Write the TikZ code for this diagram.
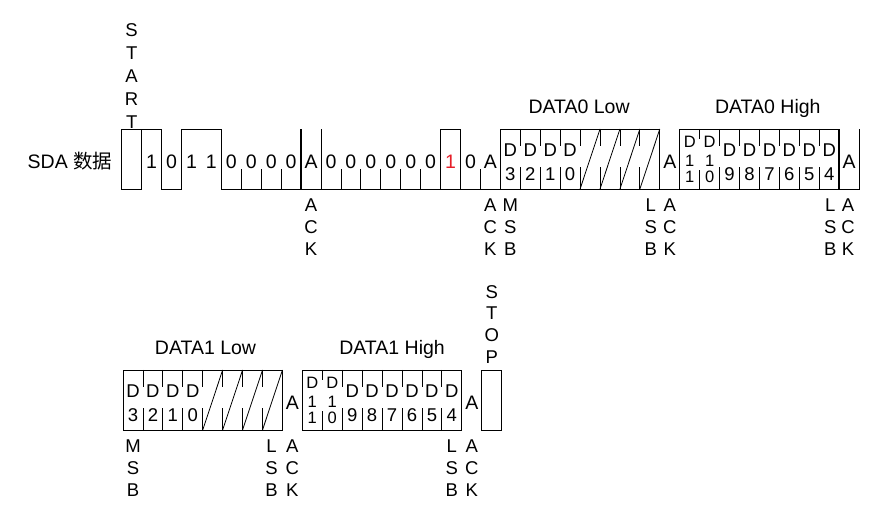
\documentclass[tikz,border=0pt]{standalone}
\usepackage{fontspec}
\setmainfont{Liberation Sans}
\newfontfamily\cjkfont{Noto Sans CJK SC}
\usepackage{tikz}
\usetikzlibrary{positioning}
\definecolor{bitred}{RGB}{230, 30, 40}
\tikzstyle{cellbox} = [rectangle, draw=black, line width=0.8pt, inner sep=0pt, outer sep=0pt, minimum height=60pt]
\tikzstyle{wave} = [draw=black, line width=0.8pt]
\tikzstyle{heavy} = [draw=black, line width=2pt]
\tikzstyle{bit} = [inner sep=0pt, anchor=base, text=black, font=\fontsize{19.5}{19.5}\selectfont]
\tikzstyle{dbit} = [inner sep=0pt, anchor=base, text=black, font=\fontsize{18.5}{18.5}\selectfont]
\tikzstyle{dsmall} = [inner sep=0pt, anchor=base, text=black, font=\fontsize{16.5}{16.5}\selectfont]
\tikzstyle{vlabel} = [inner sep=0pt, align=center, text=black, font=\fontsize{18.5}{21.7}\selectfont]

\begin{document}
\begin{tikzpicture}[x=19.93pt, y=1pt]
\useasboundingbox (-121.7pt,0pt) rectangle (772.3pt,518pt);

% row 1: address + DATA0 =============================

% boxes
\node[cellbox, minimum width=19.93pt] (start) at (0.5,359) {};
\node[cellbox, minimum width=19.93pt] (rwbox) at (16.5,359) {};
\node[cellbox, minimum width=159.44pt] (d0low) at (23,359) {};
\node[cellbox, minimum width=159.44pt] (d0high) at (32,359) {};

% waveform
\draw[wave] (start.north east) -- (2,389) -- (2,329) -- (3,329) -- (3,389) -- (5,389) -- (5,329) -- (37,329) -- (37,389);
\draw[heavy] (9,329) -- (9,389);
\draw[wave] (10,329) -- (10,389);
\draw[heavy] (d0high.south east) -- (d0high.north east);
\foreach \k in {6,7,8,11,12,13,14,15,18}
  \draw[wave] (\k,329) -- (\k,349);

% cell dividers and unused bits
\foreach \k in {20,21,22,23,24,25,26,30,31,32,33,34,35} {
  \draw[wave] (\k,389) -- (\k,372);
  \draw[wave] (\k,329) -- (\k,351);
}
\draw[wave] (29,389) -- (29,379);
\draw[wave] (29,329) -- (29,348);
\foreach \k in {23,...,26}
  \draw[wave] (\k,329) -- (\k+1,389);

% texts
\node[bit] (sda) at (-51.7pt,349.5) {SDA {\cjkfont 数据}};
\node[vlabel, above=0pt of start, font=\fontsize{18.5}{23}\selectfont] (startlbl) {S\\T\\A\\R\\T};
\foreach \k/\b in {1/1,2/0,3/1,4/1,5/0,6/0,7/0,8/0,9/A,10/0,11/0,12/0,13/0,14/0,15/0,17/0,18/A,27/A,36/A}
  \node[bit] (b\k) at (\k+0.5,349.5) {\b};
\node[bit, text=bitred] (b16) at (16.5,349.5) {1};

\foreach \k/\d in {19/3,20/2,21/1,22/0,30/9,31/8,32/7,33/6,34/5,35/4} {
  \node[dbit] (dh\k) at (\k+0.5,361) {D};
  \node[dbit] (dn\k) at (\k+0.5,337) {\d};
}
\foreach \k/\d in {28/1,29/0} {
  \node[dsmall] (sh\k) at (\k+0.5,370) {D};
  \node[dsmall] (sm\k) at (\k+0.5,351.5) {1};
  \node[dsmall] (sn\k) at (\k+0.5,335) {\d};
}

\node[bit] (d0lowlbl) at (22.95,404.7) {DATA0 Low};
\node[bit] (d0highlbl) at (32.42,404.7) {DATA0 High};

\node[vlabel, anchor=north] (ack1) at (9.5,319) {A\\C\\K};
\node[vlabel, anchor=north] (ack2) at (18.5,319) {A\\C\\K};
\node[vlabel, anchor=north] (msb0) at (19.5,319) {M\\S\\B};
\node[vlabel, anchor=north] (lsb0) at (26.55,319) {L\\S\\B};
\node[vlabel, anchor=north] (ack3) at (27.5,319) {A\\C\\K};
\node[vlabel, anchor=north] (lsb1) at (35.55,319) {L\\S\\B};
\node[vlabel, anchor=north] (ack4) at (36.45,319) {A\\C\\K};

% row 2: DATA1 + stop =============================
\begin{scope}[xshift=1.3pt, yshift=-241pt]

\node[cellbox, minimum width=159.44pt] (d1low) at (4,359) {};
\node[cellbox, minimum width=159.44pt] (d1high) at (13,359) {};
\node[cellbox, minimum width=19.93pt] (stop) at (18.5,359) {};

\foreach \k in {1,2,3,4,5,6,7,11,12,13,14,15,16} {
  \draw[wave] (\k,389) -- (\k,372);
  \draw[wave] (\k,329) -- (\k,351);
}
\draw[wave] (10,389) -- (10,379);
\draw[wave] (10,329) -- (10,348);
\foreach \k in {4,...,7}
  \draw[wave] (\k,329) -- (\k+1,389);

\foreach \k/\d in {0/3,1/2,2/1,3/0,11/9,12/8,13/7,14/6,15/5,16/4} {
  \node[dbit] (eh\k) at (\k+0.5,361) {D};
  \node[dbit] (en\k) at (\k+0.5,337) {\d};
}
\foreach \k/\d in {9/1,10/0} {
  \node[dsmall] (th\k) at (\k+0.5,370) {D};
  \node[dsmall] (tm\k) at (\k+0.5,351.5) {1};
  \node[dsmall] (tn\k) at (\k+0.5,335) {\d};
}
\node[bit] (c8) at (8.5,349.5) {A};
\node[bit] (c17) at (17.5,349.5) {A};

\node[bit] (d1lowlbl) at (4.14,404.5) {DATA1 Low};
\node[bit] (d1highlbl) at (13.5,404.5) {DATA1 High};
\node[vlabel, above=6.5pt of stop] (stoplbl) {S\\T\\O\\P};

\node[vlabel, anchor=north] (msb1) at (0.5,319) {M\\S\\B};
\node[vlabel, anchor=north] (lsb2) at (7.45,319) {L\\S\\B};
\node[vlabel, anchor=north] (ack5) at (8.5,319) {A\\C\\K};
\node[vlabel, anchor=north] (lsb3) at (16.5,319) {L\\S\\B};
\node[vlabel, anchor=north] (ack6) at (17.5,319) {A\\C\\K};

\end{scope}

\end{tikzpicture}
\end{document}
